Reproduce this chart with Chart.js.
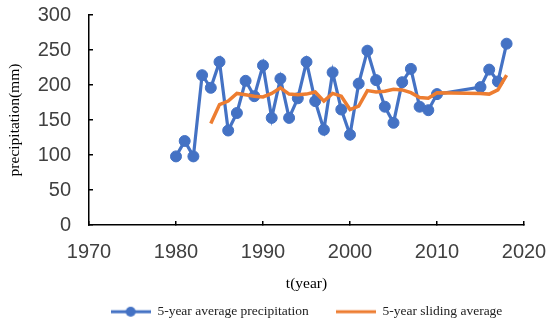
<!DOCTYPE html>
<html>
<head>
<meta charset="utf-8">
<script src="https://cdn.jsdelivr.net/npm/chart.js@4"></script>
<style>
  body { margin: 0; background: #fff; }
</style>
</head>
<body>
<canvas id="rain-chart" width="550" height="322"></canvas>
<script>
// values
const years = [1980,1981,1982,1983,1984,1985,1986,1987,1988,1989,1990,1991,1992,1993,1994,1995,1996,1997,1998,1999,
               2000,2001,2002,2003,2004,2005,2006,2007,2008,2009,2010,2015,2016,2017,2018];
const precipitation = [98,120,98,214,196,233,135,160,206,184,228,153,209,153,181,233,177,136,218,165,
                       129,202,249,207,169,146,204,223,169,164,187,197,222,205,259];

const slidingYears = [1984,1985,1986,1987,1988,1989,1990,1991,1992,1993,1994,1995,1996,1997,1998,1999,
                      2000,2001,2002,2003,2004,2005,2006,2007,2008,2009,2010,2015,2016,2017,2018];
const slidingAverage = [145,172,177,188,186,184,183,188,196,187,186,187,190,177,188,184,
                        165,170,192,190,191,194,193,189,182,181,189,188,187,193,214];

const seriesNames = ["5-year average precipitation", "5-year sliding average"];
const xRange = [1970, 2020];
const yRange = [0, 300];

const blue = "#4472C4";
const orange = "#ED7D31";

function legendSwatch(withDot, color) {
  const c = document.createElement("canvas");
  c.width = 40; c.height = 12;
  const g = c.getContext("2d");
  g.strokeStyle = color;
  g.lineWidth = 3;
  g.beginPath(); g.moveTo(0, 6); g.lineTo(40, 6); g.stroke();
  if (withDot) {
    g.fillStyle = color;
    g.beginPath(); g.arc(20, 6, 5, 0, Math.PI * 2); g.fill();
  }
  return c;
}

// keep the layout from reserving room for the end labels
function noEdgePadding(s) {
  s.paddingTop = 0; s.paddingBottom = 0; s.paddingLeft = 0; s.paddingRight = 0;
}

const tickFont = { family: "'Liberation Sans', Arial, sans-serif", size: 20 };
const titleFont = { family: "'Liberation Serif', 'Times New Roman', serif", size: 15.5 };

new Chart(document.getElementById("rain-chart"), {
  type: "line",
  data: {
    datasets: [{
        label: seriesNames[0],
        data: years.map((y, i) => ({ x: y, y: precipitation[i] })),
        borderColor: blue,
        backgroundColor: blue,
        borderWidth: 3.2,
        pointRadius: 5.5,
        pointBorderWidth: 1,
        pointBackgroundColor: blue,
        pointBorderColor: blue,
        fill: false,
        order: 1
      }, {
        label: seriesNames[1],
        data: slidingYears.map((y, i) => ({ x: y, y: slidingAverage[i] })),
        borderColor: orange,
        backgroundColor: orange,
        borderWidth: 3.5,
        pointRadius: 0,
        fill: false,
        order: 0
      }
    ]
  },
  options: {
    responsive: false,
    animation: false,
    devicePixelRatio: 1,
    layout: { padding: { left: 0, right: 26, top: 15, bottom: 0 } },
    plugins: {
      tooltip: { enabled: false },
      legend: {
        position: "bottom",
        fullSize: false,
        maxHeight: 27,
        labels: {
          usePointStyle: true,
          pointStyleWidth: 40,
          boxHeight: 12,
          padding: 10,
          color: "#222",
          font: { family: "'Liberation Serif', 'Times New Roman', serif", size: 13.5 },
          generateLabels: () => [
            { text: seriesNames[0] + "     ", pointStyle: legendSwatch(true, blue), fontColor: "#222",
              strokeStyle: blue, fillStyle: blue, lineWidth: 0, hidden: false, datasetIndex: 0 },
            { text: seriesNames[1], pointStyle: legendSwatch(false, orange), fontColor: "#222",
              strokeStyle: orange, fillStyle: orange, lineWidth: 0, hidden: false, datasetIndex: 1 }
          ]
        }
      }
    },
    scales: {
      x: {
        type: "linear",
        min: xRange[0],
        max: xRange[1],
        afterFit: s => { s.height = 70; noEdgePadding(s); },
        border: { color: "#000", width: 1.5 },
        grid: { drawOnChartArea: false, drawTicks: true, tickLength: -4, color: "#000", lineWidth: 1.5 },
        ticks: {
          stepSize: 10,
          padding: 19,
          maxRotation: 0,
          color: "#404040",
          font: tickFont,
          callback: v => String(v)
        },
        title: { display: true, text: "t(year)", color: "#000", font: titleFont, padding: { top: 0, bottom: 1.5 } }
      },
      y: {
        min: yRange[0],
        max: yRange[1],
        afterFit: s => { s.width = 89; noEdgePadding(s); },
        border: { color: "#000", width: 1.5 },
        grid: { drawOnChartArea: false, drawTicks: true, tickLength: -4, color: "#000", lineWidth: 1.5 },
        ticks: { stepSize: 50, padding: 22, color: "#404040", font: tickFont },
        title: { display: true, text: "precipitation(mm)", color: "#000", font: titleFont, padding: { top: 6, bottom: 0 } }
      }
    }
  }
});
</script>
</body>
</html>
